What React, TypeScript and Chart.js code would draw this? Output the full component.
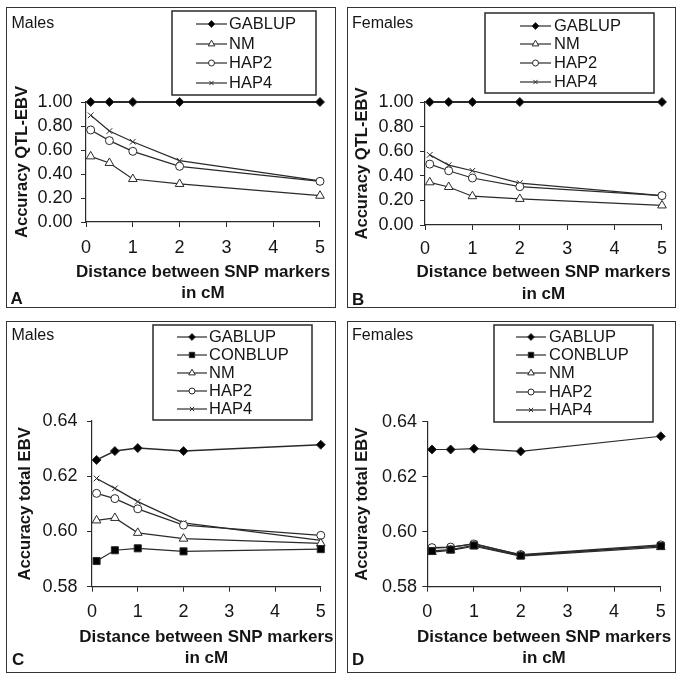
import React, { useEffect, useRef } from 'react';
import { Chart, registerables } from 'chart.js';
import { drawPoint } from 'chart.js/helpers';

Chart.register(...registerables);

const FONT = "'Liberation Sans', Arial, Helvetica, sans-serif";
Chart.defaults.font.family = FONT;

// ---------- data ----------
const DISTANCES = [0.1, 0.5, 1, 2, 5];
const X_TICKS = [0, 1, 2, 3, 4, 5];
const QTL_Y_TICKS = [0, 0.2, 0.4, 0.6, 0.8, 1.0];
const TOTAL_Y_TICKS = [0.58, 0.6, 0.62, 0.64];

const X_TITLE = ['Distance between SNP markers', 'in cM'];
const Y_TITLE_QTL = 'Accuracy QTL-EBV';
const Y_TITLE_TOTAL = 'Accuracy total EBV';

// Panel A: males, QTL-EBV
const A_GABLUP = [1.0, 1.0, 1.0, 1.0, 1.0];
const A_NM = [0.547, 0.492, 0.358, 0.317, 0.219];
const A_HAP2 = [0.767, 0.678, 0.589, 0.464, 0.339];
const A_HAP4 = [0.889, 0.758, 0.669, 0.511, 0.342];

// Panel B: females, QTL-EBV
const B_GABLUP = [1.0, 1.0, 1.0, 1.0, 1.0];
const B_NM = [0.347, 0.309, 0.234, 0.212, 0.159];
const B_HAP2 = [0.495, 0.441, 0.382, 0.312, 0.239];
const B_HAP4 = [0.57, 0.487, 0.441, 0.341, 0.239];

// Panel C: males, total EBV
const C_GABLUP = [0.6259, 0.6291, 0.6302, 0.6291, 0.6314];
const C_CONBLUP = [0.5893, 0.5932, 0.5939, 0.5928, 0.5936];
const C_NM = [0.604, 0.6049, 0.5995, 0.5974, 0.5957];
const C_HAP2 = [0.6138, 0.6119, 0.6082, 0.6023, 0.5986];
const C_HAP4 = [0.6192, 0.6156, 0.6108, 0.6031, 0.5968];

// Panel D: females, total EBV
const D_GABLUP = [0.6299, 0.6299, 0.6302, 0.6292, 0.6347];
const D_CONBLUP = [0.593, 0.5935, 0.595, 0.5913, 0.5948];
const D_NM = [0.5926, 0.5932, 0.5947, 0.5911, 0.5944];
const D_HAP2 = [0.5942, 0.5944, 0.5955, 0.5917, 0.5952];
const D_HAP4 = [0.594, 0.5943, 0.5957, 0.5915, 0.5949];

// ---------- styles ----------
const INK = '#151515';
const LINE = '#2a2a2a';
const TICK_FONT = 18;
const XTITLE_FONT = 17;
const YTITLE_FONT = 16.6;

const STYLE: Record<string, any> = {
  GABLUP: { pointStyle: 'rectRot', radius: 4.5, fill: '#000', legendRadius: 3.4 },
  CONBLUP: { pointStyle: 'rect', radius: 5, fill: '#000', legendRadius: 3.8 },
  NM: { pointStyle: 'triangle', radius: 5, fill: '#fff', legendRadius: 3.8 },
  HAP2: { pointStyle: 'circle', radius: 4, fill: '#fff', legendRadius: 3 },
  HAP4: { pointStyle: 'crossRot', radius: 4, fill: '#fff', legendRadius: 3 },
};

const decoPlugin = {
  id: 'deco',
  afterDraw(chart: any, _args: any, o: any) {
    const ctx = chart.ctx;
    const ca = chart.chartArea;
    ctx.save();
    ctx.fillStyle = INK;
    ctx.textBaseline = 'middle';

    // x-axis title (two lines, allowed to exceed the plot width like the original)
    ctx.textAlign = 'center';
    ctx.font = `bold ${XTITLE_FONT}px ${FONT}`;
    const cx = (ca.left + ca.right) / 2;
    X_TITLE.forEach((line, i) => ctx.fillText(line, cx, o.xTitleY[i]));

    ctx.textAlign = 'left';
    ctx.font = `16px ${FONT}`;
    ctx.fillText(o.label, o.labelX, o.labelY);
    ctx.font = `bold 17px ${FONT}`;
    ctx.fillText(o.letter, o.letterX, o.letterY);

    const b = o.box;
    ctx.strokeStyle = LINE;
    ctx.lineWidth = 1.5;
    ctx.strokeRect(b[0], b[1], b[2] - b[0], b[3] - b[1]);

    ctx.font = `16.5px ${FONT}`;
    chart.data.datasets.forEach((ds: any, i: number) => {
      const y = o.rows[i];
      const st = STYLE[ds.label];
      ctx.strokeStyle = LINE;
      ctx.lineWidth = 1.2;
      ctx.beginPath();
      ctx.moveTo(o.lineX[0], y);
      ctx.lineTo(o.lineX[1], y);
      ctx.stroke();
      ctx.fillStyle = st.fill;
      ctx.strokeStyle = LINE;
      ctx.lineWidth = 1;
      drawPoint(ctx, { pointStyle: st.pointStyle, radius: st.legendRadius, rotation: 0, borderWidth: 1 } as any,
        (o.lineX[0] + o.lineX[1]) / 2, y);
      ctx.fillStyle = INK;
      ctx.fillText(ds.label, o.textX, y);
    });
    ctx.restore();
  },
};

type Panel = {
  key: string;
  left: number; top: number; width: number; height: number;
  series: [string, number[]][];
  yTicks: number[];
  yTitle: string;
  padTop: number; padRight: number;
  yW: number; yTickPad: number; yTitlePad: number;
  xH: number; xTickPad: number;
  gablupWidth: number;
  deco: any;
};

const PANELS: Panel[] = [
  {
    key: 'A', left: 7, top: 8, width: 328, height: 299,
    series: [['GABLUP', A_GABLUP], ['NM', A_NM], ['HAP2', A_HAP2], ['HAP4', A_HAP4]],
    yTicks: QTL_Y_TICKS, yTitle: Y_TITLE_QTL,
    padTop: 94, padRight: 7, yW: 79, yTickPad: 8.5, yTitlePad: 5, xH: 85, xTickPad: 10,
    gablupWidth: 1.8,
    deco: {
      label: 'Males', labelX: 4.5, labelY: 16, letter: 'A', letterX: 3.5, letterY: 291,
      box: [165, 3, 309, 87], rows: [16, 36, 55, 75], lineX: [189, 220], textX: 222,
      xTitleY: [264, 285.5],
    },
  },
  {
    key: 'B', left: 348, top: 8, width: 327, height: 299,
    series: [['GABLUP', B_GABLUP], ['NM', B_NM], ['HAP2', B_HAP2], ['HAP4', B_HAP4]],
    yTicks: QTL_Y_TICKS, yTitle: Y_TITLE_QTL,
    padTop: 94, padRight: 9, yW: 77, yTickPad: 6.5, yTitlePad: 4.7, xH: 82, xTickPad: 8,
    gablupWidth: 1.8,
    deco: {
      label: 'Females', labelX: 4, labelY: 16, letter: 'B', letterX: 4, letterY: 292,
      box: [137, 5, 306, 85], rows: [18, 36, 55, 74], lineX: [172, 203], textX: 206,
      xTitleY: [264, 286],
    },
  },
  {
    key: 'C', left: 7, top: 322, width: 328, height: 350,
    series: [['GABLUP', C_GABLUP], ['CONBLUP', C_CONBLUP], ['NM', C_NM], ['HAP2', C_HAP2], ['HAP4', C_HAP4]],
    yTicks: TOTAL_Y_TICKS, yTitle: Y_TITLE_TOTAL,
    padTop: 99, padRight: 9, yW: 85, yTickPad: 9.5, yTitlePad: 8, xH: 85.3, xTickPad: 9.2,
    gablupWidth: 1.5,
    deco: {
      label: 'Males', labelX: 4.5, labelY: 14, letter: 'C', letterX: 5, letterY: 338,
      box: [146, 3, 305, 98], rows: [15, 33, 51, 69, 87], lineX: [170, 200], textX: 202,
      xTitleY: [315.5, 336.5],
    },
  },
  {
    key: 'D', left: 348, top: 322, width: 327, height: 350,
    series: [['GABLUP', D_GABLUP], ['CONBLUP', D_CONBLUP], ['NM', D_NM], ['HAP2', D_HAP2], ['HAP4', D_HAP4]],
    yTicks: TOTAL_Y_TICKS, yTitle: Y_TITLE_TOTAL,
    padTop: 99.7, padRight: 9, yW: 79.3, yTickPad: 5.3, yTitlePad: 4.7, xH: 85.3, xTickPad: 9.2,
    gablupWidth: 1.1,
    deco: {
      label: 'Females', labelX: 4, labelY: 14, letter: 'D', letterX: 4, letterY: 338,
      box: [146, 3, 305, 100], rows: [15, 33, 51, 70, 88], lineX: [168, 198], textX: 201,
      xTitleY: [315, 336.5],
    },
  },
];

function PanelChart({ p }: { p: Panel }) {
  const ref = useRef<HTMLCanvasElement | null>(null);
  useEffect(() => {
    if (!ref.current) return;
    const datasets = p.series.map(([name, vals]) => {
      const st = STYLE[name];
      return {
        label: name,
        data: DISTANCES.map((x, i) => ({ x, y: vals[i] })),
        borderColor: LINE,
        borderWidth: name === 'GABLUP' ? p.gablupWidth : 1.2,
        pointStyle: st.pointStyle,
        pointRadius: st.radius,
        pointBackgroundColor: st.fill,
        pointBorderColor: LINE,
        pointBorderWidth: 1,
        tension: 0,
        fill: false,
        clip: false,
      };
    });
    const chart = new Chart(ref.current, {
      type: 'line',
      data: { datasets } as any,
      plugins: [decoPlugin],
      options: {
        animation: false,
        responsive: false,
        devicePixelRatio: 1,
        layout: { padding: { top: p.padTop, right: p.padRight, left: 0, bottom: 0 } },
        plugins: {
          legend: { display: false },
          tooltip: { enabled: false },
          deco: p.deco,
        } as any,
        scales: {
          x: {
            type: 'linear',
            min: 0,
            max: 5,
            afterBuildTicks: (s: any) => { s.ticks = X_TICKS.map((v) => ({ value: v })); },
            afterFit: (s: any) => { s.height = p.xH; },
            grid: { drawOnChartArea: false, drawTicks: true, tickLength: 5, color: LINE },
            border: { display: true, color: LINE, width: 1.2 },
            ticks: { padding: p.xTickPad, font: { size: TICK_FONT }, color: INK, maxRotation: 0, autoSkip: false },
            title: { display: false },
          },
          y: {
            type: 'linear',
            min: p.yTicks[0],
            max: p.yTicks[p.yTicks.length - 1],
            afterBuildTicks: (s: any) => { s.ticks = p.yTicks.map((v) => ({ value: v })); },
            afterFit: (s: any) => { s.width = p.yW; },
            grid: { drawOnChartArea: false, drawTicks: true, tickLength: 5, color: LINE },
            border: { display: true, color: LINE, width: 1.2 },
            ticks: {
              padding: p.yTickPad, font: { size: TICK_FONT }, color: INK, autoSkip: false,
              callback: (v: any) => Number(v).toFixed(2),
            },
            title: {
              display: true, text: p.yTitle, color: INK,
              font: { size: YTITLE_FONT, weight: 'bold', lineHeight: 1.2 },
              padding: { top: p.yTitlePad, bottom: 0 },
            },
          },
        },
      } as any,
    });
    return () => chart.destroy();
  }, [p]);
  return (
    <canvas
      ref={ref}
      width={p.width}
      height={p.height}
      style={{ position: 'absolute', left: p.left, top: p.top, width: p.width, height: p.height }}
    />
  );
}

export default function App() {
  return (
    <div style={{ position: 'absolute', left: 0, top: 0, width: 685, height: 681, background: '#fff', overflow: 'hidden' }}>
      {PANELS.map((p) => (
        <div
          key={'b' + p.key}
          style={{
            position: 'absolute', left: p.left - 1, top: p.top - 1, width: p.width + 1.5, height: p.height + 1.5,
            border: '1.5px solid #333', boxSizing: 'border-box',
          }}
        />
      ))}
      {PANELS.map((p) => <PanelChart key={p.key} p={p} />)}
    </div>
  );
}
